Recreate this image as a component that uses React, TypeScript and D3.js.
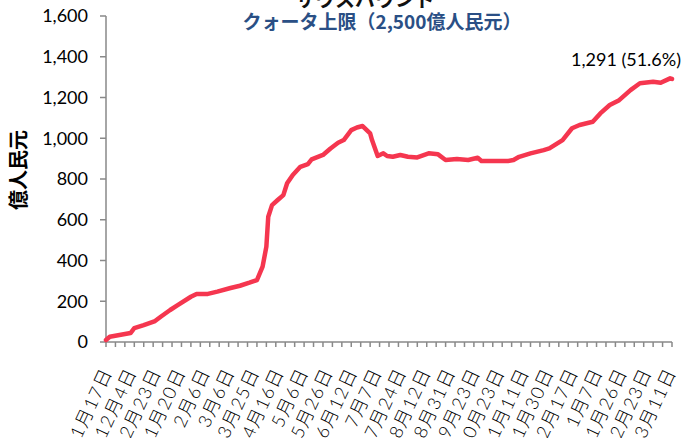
import * as React from "react"
import * as d3 from "d3"

// trading-day index of each sample (0 = 11月17日) and the quota used that day
const sampleDay = [0, 2, 13, 15, 20, 26, 29, 34, 38, 45, 48, 54, 59, 66, 71, 76, 80, 83, 85, 86, 88, 91, 94, 96, 99, 103, 107, 109, 115, 119, 123, 126, 130, 133, 136, 140, 141, 144, 147, 149, 152, 156, 160, 165, 171, 176, 180, 186, 192, 197, 199, 205, 213, 216, 219, 225, 232, 235, 242, 247, 251, 258, 262, 267, 272, 278, 283, 290, 294, 299, 300]
const sampleValue = [10, 26, 44, 68, 83, 103, 124, 157, 181, 222, 236, 236, 247, 265, 276, 291, 304, 370, 468, 615, 672, 697, 721, 779, 820, 860, 873, 896, 918, 950, 978, 991, 1040, 1053, 1060, 1024, 991, 913, 926, 913, 909, 918, 909, 906, 926, 921, 893, 898, 893, 904, 888, 888, 888, 893, 909, 926, 942, 950, 991, 1049, 1065, 1081, 1122, 1163, 1187, 1236, 1270, 1277, 1272, 1294, 1291]

const dateLabels = ["11月17日", "12月4日", "12月23日", "1月20日", "2月6日", "3月6日", "3月25日", "4月16日", "5月6日", "5月26日", "6月12日", "7月7日", "7月24日", "8月12日", "8月31日", "9月23日", "10月23日", "11月11日", "11月30日", "12月17日", "1月7日", "1月26日", "2月23日", "3月11日"]
const yTicks = [0, 200, 400, 600, 800, 1000, 1200, 1400, 1600]

const totalDays = 300
const labelEvery = 13
const tickEvery = 5
const quota = 2500

export default function App() {
    const [w, h] = [697, 438]
    const m = { top: 16, bottom: 96, left: 106, right: 25 }

    const xScale = d3.scaleLinear().domain([0, totalDays]).range([m.left, w - m.right])
    const yScale = d3.scaleLinear().domain([0, 1600]).range([h - m.bottom, m.top])

    const data = sampleDay.map((d, i) => ({ day: d, value: sampleValue[i] }))
    const line = d3.line<{ day: number, value: number }>()
        .x(d => xScale(d.day))
        .y(d => yScale(d.value))

    const last = data[data.length - 1]
    const note = `${d3.format(",")(last.value)} (${(last.value / quota * 100).toFixed(1)}%)`
    const axisColor = "#898989"
    const font = "Lato, 'Noto Sans CJK JP', sans-serif"

    const xTicks = d3.range(0, totalDays + 1, tickEvery)

    return (
        <svg width={w} height={h} style={{ position: "absolute", left: 0, top: 0, background: "#fff" }}>
            <text x={365} y={7} fontSize={20} fontWeight="bold" textAnchor="middle"
                fontFamily="'Noto Sans CJK JP', sans-serif" fill="#111">サウスバウンド</text>
            <text x={382} y={29} fontSize={19} fontWeight="bold" textAnchor="middle"
                fontFamily="'Noto Sans CJK JP', sans-serif" fill="#2a4f85">クォータ上限（2,500億人民元）</text>

            <text transform={`translate(26, 170) rotate(-90)`} fontSize={20} fontWeight="bold"
                textAnchor="middle" fontFamily="'Noto Sans CJK JP', sans-serif" fill="#000">億人民元</text>

            {/* y axis */}
            <line x1={m.left} x2={m.left} y1={yScale(1600)} y2={yScale(0)} stroke={axisColor} strokeWidth={1.5} />
            {yTicks.map((t, i) => (
                <g key={i}>
                    <line x1={m.left - 6} x2={m.left} y1={yScale(t)} y2={yScale(t)} stroke={axisColor} strokeWidth={1.5} />
                    <text x={88} y={yScale(t)} dy="0.35em" fontSize={18} textAnchor="end" fontFamily={font} fill="#000">
                        {d3.format(",")(t)}
                    </text>
                </g>
            ))}

            {/* x axis */}
            <line x1={m.left} x2={xScale(totalDays)} y1={yScale(0)} y2={yScale(0)} stroke={axisColor} strokeWidth={1.5} />
            {xTicks.map((t, i) => (
                <line key={i} x1={xScale(t)} x2={xScale(t)} y1={yScale(0)} y2={yScale(0) + 5} stroke={axisColor} strokeWidth={1.5} />
            ))}
            {dateLabels.map((d, i) => (
                <text key={i} transform={`translate(${xScale(i * labelEvery) + 1}, ${yScale(0) + 27}) rotate(-65)`}
                    fontSize={18} letterSpacing={1.5} fontWeight={300} textAnchor="end" dy="0.35em" fontFamily={font} fill="#000">{d}</text>
            ))}

            <path d={line(data) ?? ""} fill="none" stroke="#f5364f" strokeWidth={4.5} strokeLinejoin="round" strokeLinecap="round" />

            <text x={xScale(last.day) - 46} y={yScale(last.value) - 13} fontSize={18} textAnchor="middle"
                fontFamily={font} fill="#000">{note}</text>
        </svg>
    )
}
